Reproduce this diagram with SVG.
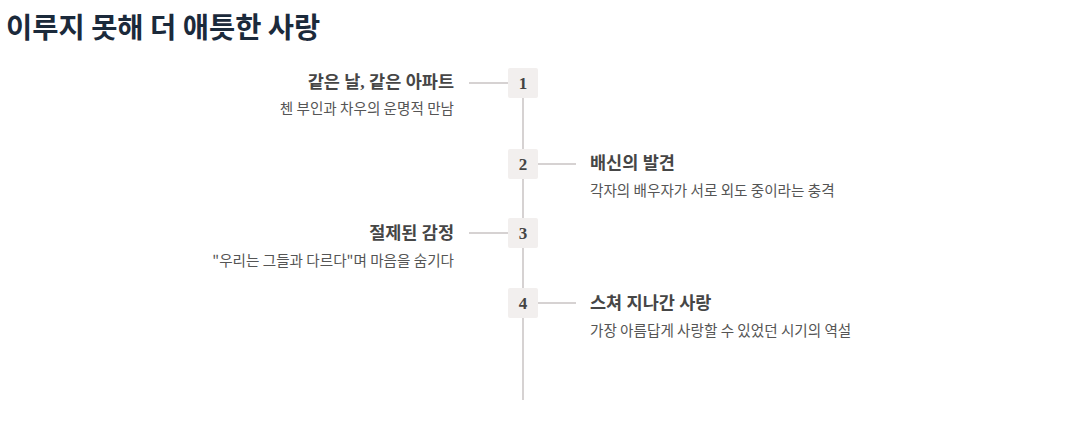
<svg xmlns="http://www.w3.org/2000/svg" width="1087" height="422" viewBox="0 0 1087 422">
<style>
.h{font-family:"Noto Sans CJK KR","Noto Sans",sans-serif;font-weight:700;font-size:28.5px;fill:#1b2a3b}
.t{font-family:"Liberation Serif","Noto Sans CJK KR",serif;font-weight:700;font-size:17.5px;fill:#464646}
.s{font-family:"Noto Sans CJK KR","Noto Sans",sans-serif;font-size:14.6px;fill:#555}
.n{font-family:"Liberation Serif","DejaVu Serif",serif;font-weight:700;font-size:17px;fill:#444;text-anchor:middle}
.box{fill:#f2efee}
.ln{stroke:#d6d2d2;stroke-width:2;fill:none}
</style>
<rect width="1087" height="422" fill="#fff"/>
<text class="h" x="6" y="38">이루지 못해 더 애틋한 사랑</text>
<g id="connectors">
<line class="ln" x1="523" y1="68" x2="523" y2="400"/>
<line class="ln" x1="469" y1="83" x2="508" y2="83"/>
<line class="ln" x1="538" y1="164" x2="576" y2="164"/>
<line class="ln" x1="469" y1="233" x2="508" y2="233"/>
<line class="ln" x1="538" y1="303" x2="576" y2="303"/>
</g>
<g id="node1">
<rect class="box" x="508" y="68" width="30" height="30" rx="2"/>
<text class="n" x="523" y="89">1</text>
<text class="t" x="454" y="88" text-anchor="end">같은 날, 같은 아파트</text>
<text class="s" x="454" y="114" text-anchor="end">첸 부인과 차우의 운명적 만남</text>
</g>
<g id="node2">
<rect class="box" x="508" y="149" width="30" height="30" rx="2"/>
<text class="n" x="523" y="170">2</text>
<text class="t" x="590" y="169">배신의 발견</text>
<text class="s" x="590" y="196">각자의 배우자가 서로 외도 중이라는 충격</text>
</g>
<g id="node3">
<rect class="box" x="508" y="218" width="30" height="30" rx="2"/>
<text class="n" x="523" y="239">3</text>
<text class="t" x="454" y="239" text-anchor="end">절제된 감정</text>
<text class="s" x="454" y="266" text-anchor="end">"우리는 그들과 다르다"며 마음을 숨기다</text>
</g>
<g id="node4">
<rect class="box" x="508" y="288" width="30" height="30" rx="2"/>
<text class="n" x="523" y="309">4</text>
<text class="t" x="590" y="309">스쳐 지나간 사랑</text>
<text class="s" x="590" y="336">가장 아름답게 사랑할 수 있었던 시기의 역설</text>
</g>
</svg>
